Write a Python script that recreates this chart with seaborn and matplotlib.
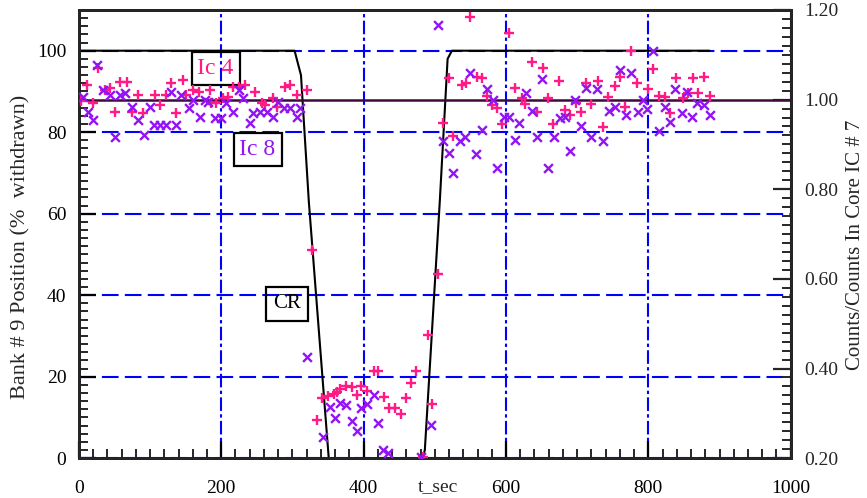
import matplotlib
matplotlib.use('Agg')
import matplotlib.pyplot as plt
from matplotlib.ticker import MultipleLocator, FormatStrFormatter
import seaborn as sns

# control rod bank position (% withdrawn) vs time
cr_t = [0, 303, 312, 323, 351, 483, 486, 507, 518, 524, 886]
cr_pos = [100, 100, 94, 63, 0, 0, 2, 63, 98, 100, 100]

# Ic 4 counts / counts in core IC #7
ic4_t = [3, 11, 20, 27, 37, 43, 51, 58, 67, 74, 83, 90, 107, 114, 122, 130, 137, 146, 150, 161,
         169, 184, 186, 193, 203, 210, 217, 225, 233, 247, 257, 261, 273, 278, 290, 297, 306, 320,
         327, 335, 342, 350, 358, 363, 367, 375, 383, 390, 397, 405, 414, 420, 428, 436, 444, 452,
         459, 467, 473, 483, 490, 496, 504, 512, 520, 526, 538, 544, 550, 559, 566, 574, 580, 588,
         595, 604, 612, 622, 627, 636, 644, 652, 659, 666, 675, 683, 690, 698, 706, 713, 720, 729,
         736, 743, 753, 760, 767, 775, 784, 800, 807, 815, 823, 830, 839, 848, 856, 863, 870, 878, 887]
ic4_ratio = [0.996, 1.033, 0.992, 1.070, 1.021, 1.025, 0.973, 1.040, 1.040, 0.973, 1.010, 0.969,
             1.010, 0.988, 1.010, 1.036, 0.969, 1.044, 1.010, 1.021, 1.018, 1.021, 0.992, 0.992,
             1.003, 1.006, 1.029, 1.029, 1.033, 1.018, 0.992, 0.988, 1.003, 0.984, 1.029, 1.033,
             1.010, 1.021, 0.664, 0.285, 0.335, 0.338, 0.344, 0.348, 0.355, 0.361, 0.359, 0.341,
             0.361, 0.350, 0.395, 0.395, 0.337, 0.312, 0.312, 0.298, 0.335, 0.367, 0.395, 0.203,
             0.475, 0.320, 0.611, 0.948, 1.048, 0.919, 1.033, 1.036, 1.184, 1.050, 1.048, 1.008,
             0.988, 0.981, 0.946, 1.148, 1.025, 1.003, 0.990, 1.085, 0.973, 1.070, 1.003, 0.945,
             1.042, 0.977, 0.966, 0.992, 0.973, 1.036, 0.990, 1.042, 0.938, 1.006, 1.030, 1.050,
             0.983, 1.109, 1.038, 1.023, 1.068, 1.008, 1.006, 0.969, 1.048, 1.003, 1.015, 1.048,
             1.014, 1.050, 1.008]

# Ic 8 counts / counts in core IC #7
ic8_t = [6, 13, 20, 26, 34, 44, 51, 58, 65, 74, 83, 91, 100, 105, 114, 122, 130, 137, 144, 154,
         161, 170, 177, 182, 191, 200, 207, 217, 225, 231, 240, 245, 254, 264, 272, 280, 288, 296,
         306, 310, 320, 343, 353, 360, 367, 375, 383, 390, 397, 405, 414, 420, 427, 434, 481, 495,
         504, 512, 520, 526, 535, 542, 550, 558, 566, 574, 582, 588, 597, 604, 612, 618, 628, 636,
         644, 651, 659, 667, 676, 683, 690, 697, 706, 713, 720, 728, 736, 745, 753, 760, 768, 776,
         786, 793, 798, 807, 815, 823, 830, 837, 847, 854, 862, 868, 878, 886]
ic8_ratio = [1.006, 0.973, 0.954, 1.077, 1.021, 1.010, 0.917, 1.010, 1.014, 0.984, 0.954, 0.921,
             0.984, 0.943, 0.943, 0.943, 1.018, 0.943, 1.010, 0.981, 0.999, 0.962, 0.999, 0.995,
             0.958, 0.958, 0.992, 0.973, 1.021, 1.003, 0.947, 0.969, 0.973, 0.973, 0.962, 0.995,
             0.981, 0.981, 0.962, 0.981, 0.426, 0.248, 0.315, 0.289, 0.324, 0.318, 0.283, 0.261,
             0.311, 0.321, 0.341, 0.279, 0.218, 0.212, 0.203, 0.274, 1.167, 0.908, 0.881, 0.837,
             0.908, 0.917, 1.060, 0.879, 0.932, 1.023, 0.999, 0.848, 0.962, 0.962, 0.910, 0.948,
             1.015, 0.975, 0.917, 1.045, 0.847, 0.917, 0.958, 0.962, 0.886, 0.998, 0.940, 1.025,
             0.917, 1.023, 0.908, 0.975, 0.984, 1.065, 0.966, 1.060, 0.973, 0.999, 0.978, 1.109,
             0.931, 0.984, 0.951, 1.023, 0.969, 1.018, 0.962, 0.993, 0.988, 0.966]

ref_level = 1.0

pink = '#ff1a85'
purple = '#9214f5'

sns.set_style('ticks')
plt.rcParams['font.family'] = ['Liberation Serif', 'DejaVu Serif']

fig = plt.figure(figsize=(8.67, 4.98), dpi=100)
ax = fig.add_axes([0.091, 0.080, 0.821, 0.900])

sns.lineplot(x=cr_t, y=cr_pos, ax=ax, sort=False, estimator=None, color='black', lw=1.5)
ax.set_xlim(0, 1000)
ax.set_ylim(0, 110)
ax.xaxis.set_major_locator(MultipleLocator(200))
ax.xaxis.set_minor_locator(MultipleLocator(20))
ax.yaxis.set_major_locator(MultipleLocator(20))
ax.yaxis.set_minor_locator(MultipleLocator(2))
ax.xaxis.grid(True, which='major', color='blue', lw=1.5, ls=(0, (6.5, 1.6, 1.6, 1.6)))
ax.yaxis.grid(True, which='major', color='blue', lw=1.5, ls=(0, (8, 3)))
ax.set_axisbelow(True)
ax.tick_params(which='major', direction='in', length=12, width=1.6, labelsize=14,
               top=False, right=False, pad=9, colors='black')
ax.tick_params(which='minor', direction='in', length=6.5, width=1.4, top=False, right=False)
ax.tick_params(axis='x', pad=16)
for s in ax.spines.values():
    s.set_linewidth(2)
    s.set_color('black')
ax.set_xlabel('t_sec', fontsize=14)
ax.xaxis.set_label_coords(0.504, -0.044)
ax.set_ylabel('Bank # 9 Position (%  withdrawn)', fontsize=16)
ax.yaxis.set_label_coords(-0.068, 0.472)

ax2 = ax.twinx()
ax2.axhline(ref_level, color='#3c0a3c', lw=1.8, zorder=1)
sns.scatterplot(x=ic4_t, y=ic4_ratio, ax=ax2, marker='+', s=60, linewidth=1.7, color=pink, zorder=3)
sns.scatterplot(x=ic8_t, y=ic8_ratio, ax=ax2, marker='x', s=40, linewidth=1.7, color=purple, zorder=3)
ax2.set_ylim(0.2, 1.2)
ax2.yaxis.set_major_locator(MultipleLocator(0.2))
ax2.yaxis.set_minor_locator(MultipleLocator(0.02))
ax2.yaxis.set_major_formatter(FormatStrFormatter('%.2f'))
ax2.tick_params(which='major', direction='in', length=13, width=1.6, labelsize=14, pad=10)
ax2.tick_params(which='minor', direction='in', length=6.5, width=1.4)
for s in ax2.spines.values():
    s.set_linewidth(2)
ax2.set_ylabel('Counts/Counts In Core IC # 7', fontsize=15)
ax2.yaxis.set_label_coords(1.078, 0.477)

box = dict(boxstyle='square,pad=0.25', fc='none', ec='black', lw=1.6)
ax.text(192, 95.6, 'Ic 4', color=pink, fontsize=17, ha='center', va='center', bbox=box)
ax.text(251, 75.7, 'Ic 8', color=purple, fontsize=17, ha='center', va='center', bbox=box)
ax.text(292, 37.9, 'CR', color='black', fontsize=15, ha='center', va='center',
        bbox=dict(boxstyle='square,pad=0.35', fc='none', ec='black', lw=1.6))

fig.savefig('out.png', dpi=100)
